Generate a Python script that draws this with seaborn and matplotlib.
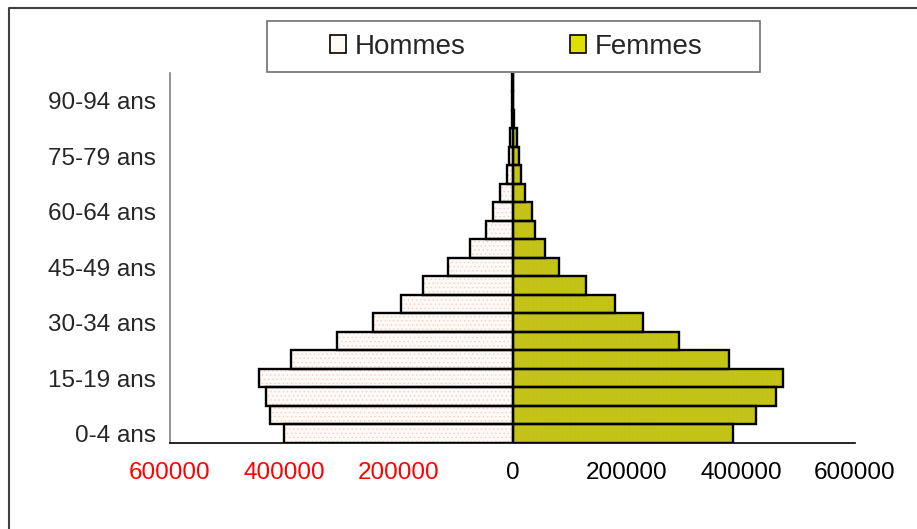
import pandas as pd
import matplotlib.pyplot as plt
import seaborn as sns
from matplotlib.patches import Rectangle, Patch
from matplotlib.lines import Line2D

# Population par tranche d'age
ages = ['0-4 ans', '5-9 ans', '10-14 ans', '15-19 ans', '20-24 ans', '25-29 ans',
        '30-34 ans', '35-39 ans', '40-44 ans', '45-49 ans', '50-54 ans', '55-59 ans',
        '60-64 ans', '65-69 ans', '70-74 ans', '75-79 ans', '80-84 ans', '85-89 ans',
        '90-94 ans', '95-99 ans']
hommes = [400000, 424500, 432000, 444300, 388300, 307700, 244700, 195600, 157600, 113800,
          74300, 46800, 34000, 22200, 10500, 7000, 4000, 1500, 800, 300]
femmes = [387000, 426100, 462300, 474600, 379400, 291800, 228700, 179700, 128400, 80600,
          57100, 39600, 33800, 21600, 14500, 11600, 7500, 3000, 1500, 600]
shown_labels = ['0-4 ans', '15-19 ans', '30-34 ans', '45-49 ans', '60-64 ans', '75-79 ans', '90-94 ans']
xticks = [-600000, -400000, -200000, 0, 200000, 400000, 600000]

sns.set_style('white')
plt.rcParams['font.family'] = ['Liberation Sans', 'DejaVu Sans']
plt.rcParams['hatch.linewidth'] = 0.5

df = pd.DataFrame({
    'age': ages * 2,
    'sexe': ['Hommes'] * len(ages) + ['Femmes'] * len(ages),
    'value': [-v for v in hommes] + femmes,
})

colors = {'Hommes': '#fffaf6', 'Femmes': '#dede00'}
hatch_style = {'Hommes': ('....', '#f6cfc0'), 'Femmes': ('||||', '#caca00')}

fig = plt.figure(figsize=(9.17, 5.29), dpi=100)
ax = fig.add_axes([170 / 917, 1 - 443 / 529, 685 / 917, 370 / 529])

order = ages[::-1]
sns.barplot(data=df, x='value', y='age', hue='sexe', order=order,
            hue_order=['Hommes', 'Femmes'], palette=colors, dodge=False,
            width=1.0, orient='h', errorbar=None, legend=False, ax=ax)

# hatch fill + black outline drawn on top
for cont, sexe in zip(ax.containers, ['Hommes', 'Femmes']):
    h, hc = hatch_style[sexe]
    for p in cont.patches:
        p.set_hatch(h)
        p.set_edgecolor(hc)
        p.set_linewidth(0)
        ax.add_patch(Rectangle(p.get_xy(), p.get_width(), p.get_height(),
                               fill=False, edgecolor='black', linewidth=1.7, zorder=3))

ax.set_xlim(-600000, 600000)
ax.set_ylim(len(ages) - 0.5, -0.5)
ax.set_xlabel('')
ax.set_ylabel('')

ax.set_xticks(xticks)
ax.set_xticklabels([str(abs(t)) for t in xticks], fontsize=17.5)
for lab, t in zip(ax.get_xticklabels(), xticks):
    lab.set_color('red' if t < 0 else 'black')
ax.tick_params(axis='x', length=6.5, width=1, color='#333333', pad=7, direction='out')

ax.set_yticks(range(len(order)))
ax.set_yticklabels([a if a in shown_labels else '' for a in order], fontsize=17.5)
ax.tick_params(axis='y', length=0, pad=10)

ax.spines['top'].set_visible(False)
ax.spines['right'].set_visible(False)
ax.spines['bottom'].set_color('black')
ax.spines['bottom'].set_linewidth(1.2)
ax.spines['left'].set_color('#808080')
ax.spines['left'].set_linewidth(1.2)

# legend
handles = [Patch(facecolor=colors[s], edgecolor='black', linewidth=1.2)
           for s in ['Hommes', 'Femmes']]
fig.legend(handles, ['Hommes', 'Femmes'], loc='center', ncol=2, frameon=False,
           bbox_to_anchor=(516 / 917, 1 - 46.6 / 529), fontsize=20,
           handlelength=0.6, handleheight=0.6, handletextpad=0.3, columnspacing=3.75)
fig.patches.append(Rectangle((266.7 / 917, 1 - 72.3 / 529), 493.3 / 917, 51.3 / 529,
                             transform=fig.transFigure, fill=False, edgecolor='#707070',
                             linewidth=1.2))

# outer frame (top and left edges)
fig.lines.append(Line2D([9 / 917, 9 / 917, 1], [0, 1 - 7.5 / 529, 1 - 7.5 / 529],
                        transform=fig.transFigure, color='#404040', linewidth=1.5))

fig.savefig('out.png', dpi=100)
